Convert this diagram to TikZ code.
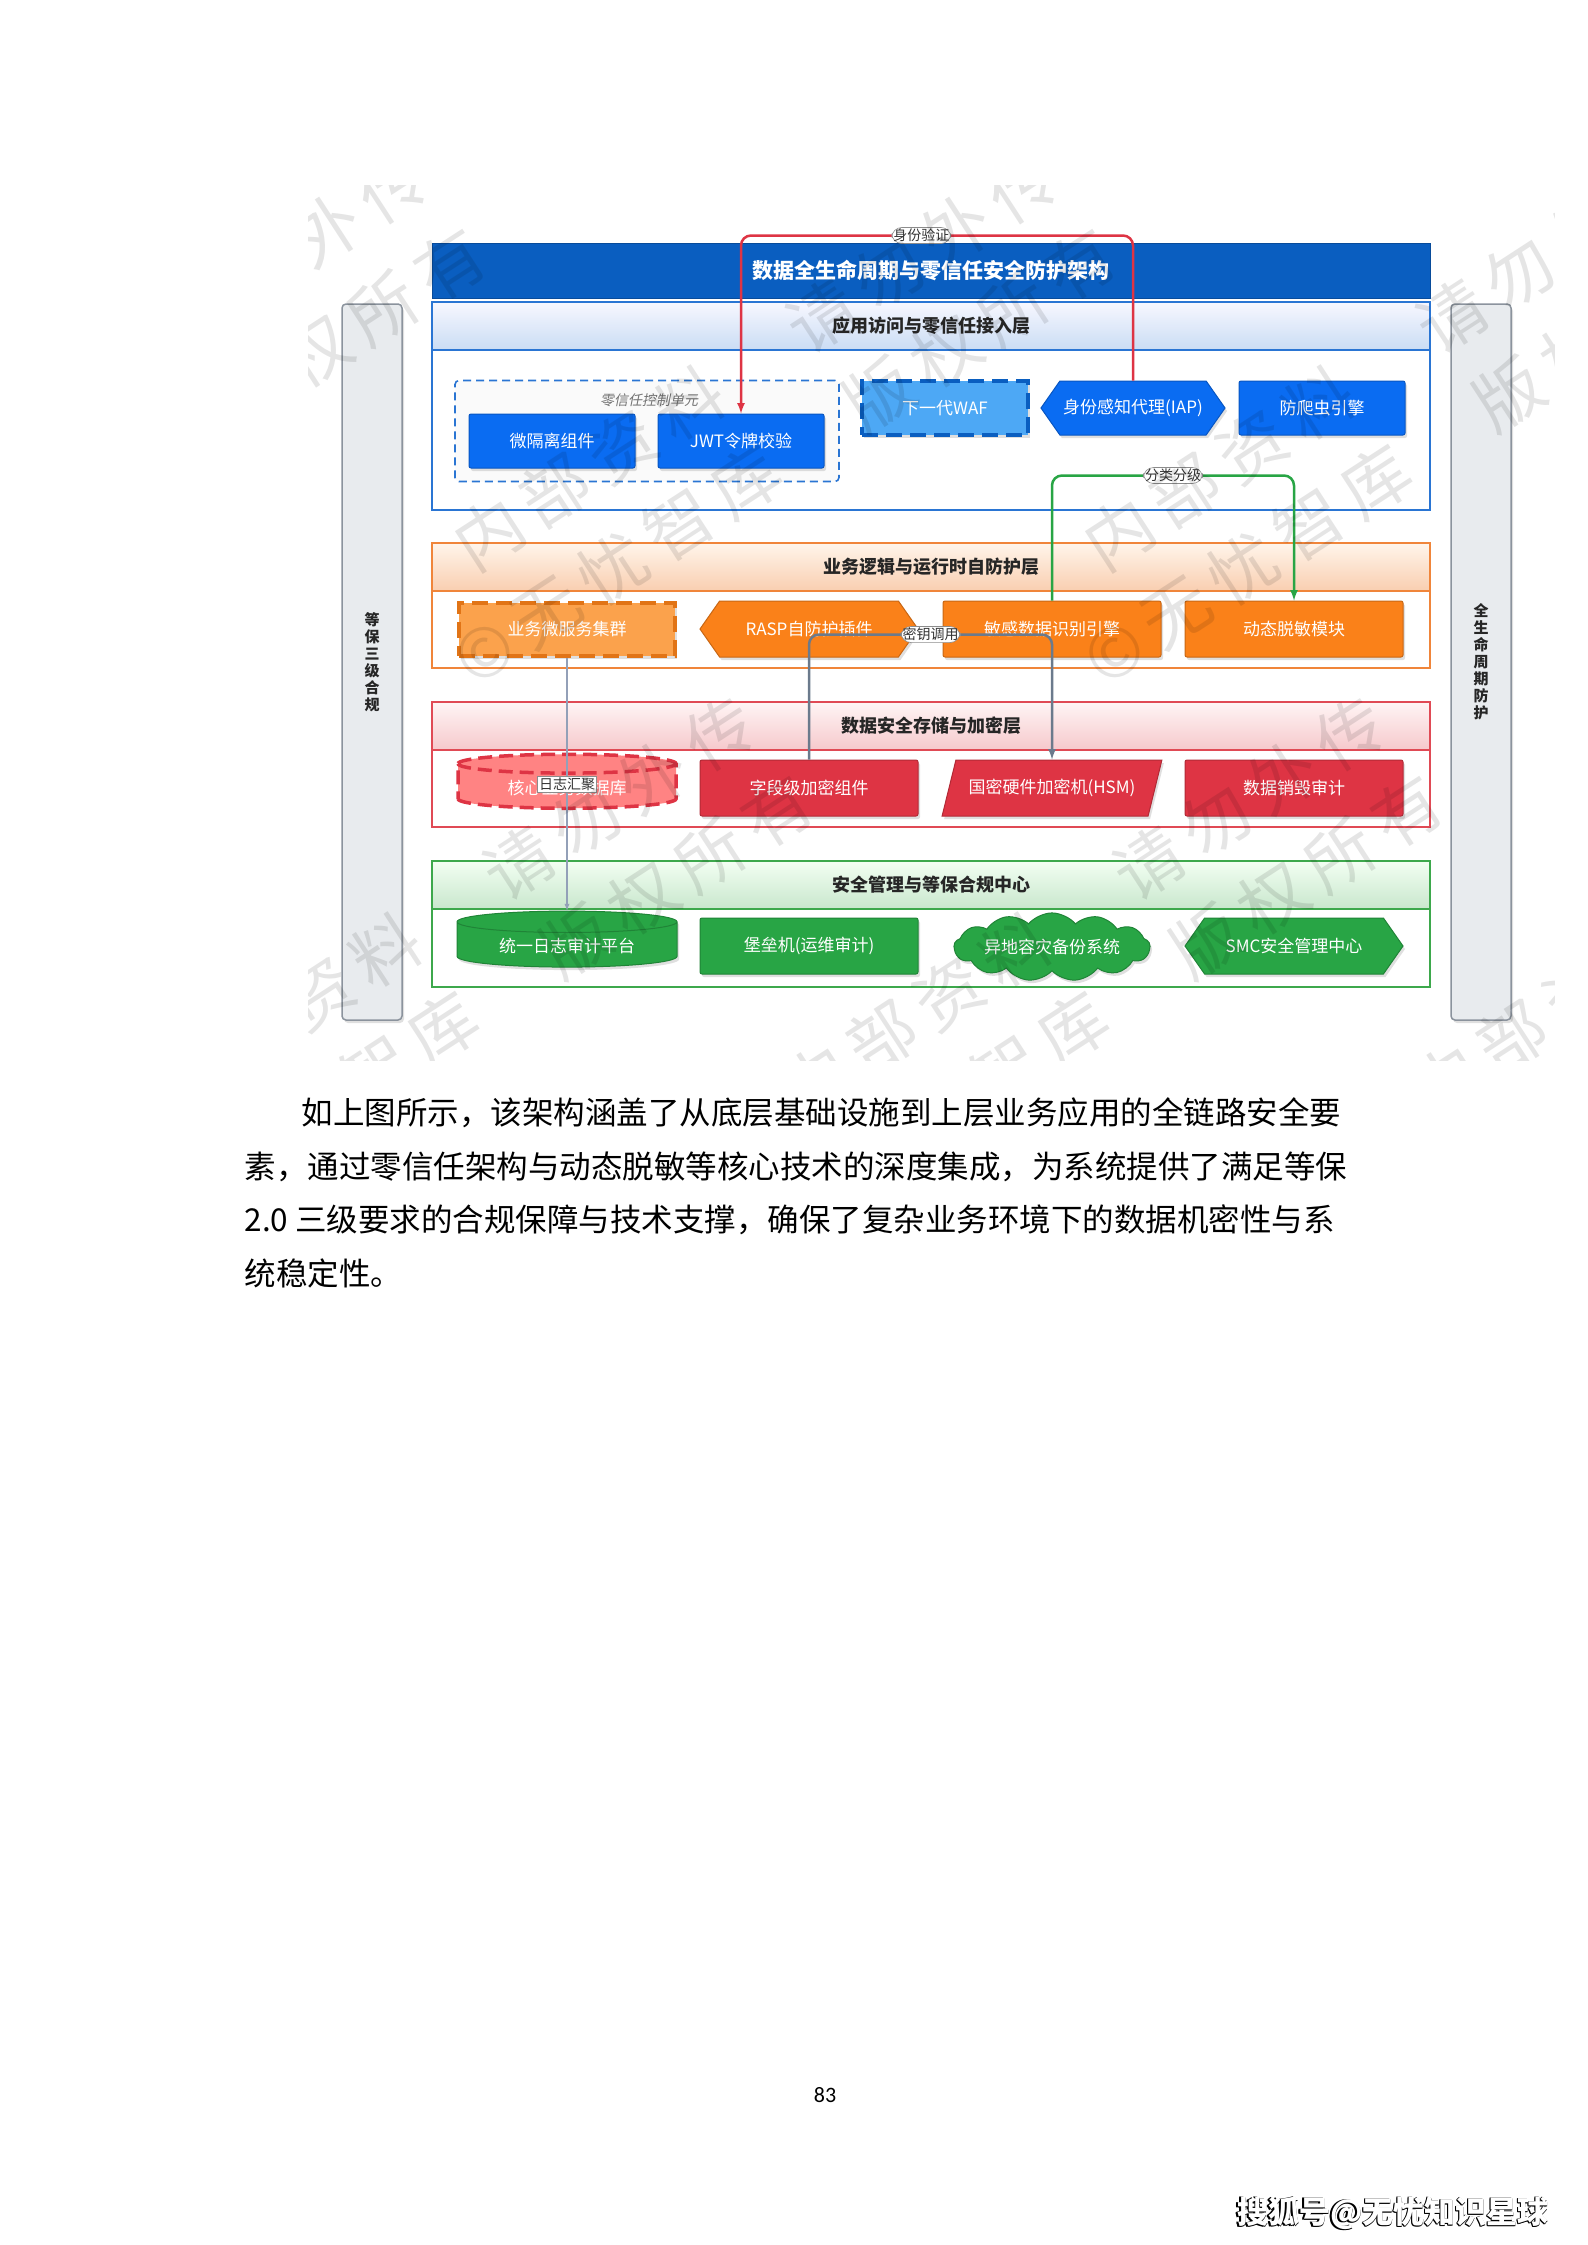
\documentclass[tikz,border=0pt]{standalone}
\usepackage{fontspec}
\setmainfont{Noto Sans CJK SC}
\newfontfamily\slfont[FakeSlant=0.2]{Noto Sans CJK SC}
\newfontfamily\wmfont[LetterSpace=17]{Noto Sans CJK SC}
\newfontfamily\numfont{Carlito}
\usetikzlibrary{shapes.geometric,shapes.symbols,shadows,arrows}
\definecolor{archtitle}{HTML}{0A5EC0}
\definecolor{archblue}{HTML}{0A6CF2}
\definecolor{archsky}{HTML}{4DA8F5}
\definecolor{archorange}{HTML}{FA8119}
\definecolor{archpeach}{HTML}{FBA24C}
\definecolor{archred}{HTML}{DE3444}
\definecolor{archpink}{HTML}{FF8383}
\definecolor{archgreen}{HTML}{28A545}
\definecolor{archbar}{HTML}{E8EBEE}
\definecolor{archbarln}{HTML}{8B939D}
\definecolor{archslate}{HTML}{6B7A8C}
\definecolor{archlog}{HTML}{93A0B8}
\definecolor{laybl}{HTML}{2A75D3}
\definecolor{layor}{HTML}{F0853A}
\definecolor{layrd}{HTML}{E04A55}
\definecolor{laygn}{HTML}{3DA84C}

\begin{document}
\begin{tikzpicture}[x=1pt,y=-1pt,
        every node/.style={font=\fontsize{17}{20}\selectfont, text=white, align=center},
        shd/.style={drop shadow={opacity=0.25, shadow xshift=2pt, shadow yshift=-3pt}},
        ttl/.style={fill=archtitle, draw=archtitle!80!black, line width=1pt,
          minimum width=998, minimum height=55, font=\fontsize{21}{24}\selectfont\bfseries},
        lyr/.style={fill=white, line width=1.6pt, minimum width=998, inner sep=0pt},
        hdr/.style={line width=1.6pt, minimum width=998, minimum height=48,
          text=black!85, font=\fontsize{18}{20}\selectfont\bfseries},
        bx/.style={shd, fill=#1, draw=#1!80!black, line width=1pt, rounded corners=2pt,
          minimum width=218, minimum height=56},
        hex/.style={shd, signal, signal to=west and east, signal pointer angle=110,
          fill=#1, draw=#1!80!black, line width=1pt, minimum width=218, minimum height=56},
        cyl/.style={shd, cylinder, shape border rotate=90, aspect=0.15,
          fill=#1, draw=#1!80!black, line width=1pt, minimum width=220, minimum height=56},
        slant/.style={shd, trapezium, trapezium left angle=63, trapezium right angle=117,
          trapezium stretches=true, fill=archred, draw=archred!80!black, line width=1pt,
          minimum width=220, minimum height=56},
        cld/.style={shd, cloud, cloud puffs=13, cloud puff arc=100, aspect=4,
          fill=archgreen, draw=archgreen!80!black, line width=1pt,
          minimum width=196, minimum height=50, inner sep=0pt},
        grp/.style={draw=laybl, fill=black!2, line width=1.6pt, dash pattern=on 8pt off 5pt,
          rounded corners=4pt, minimum width=384, minimum height=101},
        grplbl/.style={text=black!55, font=\slfont\fontsize{14}{16}\selectfont},
        side/.style={shd, fill=archbar, draw=archbarln, line width=1.5pt, rounded corners=4pt,
          minimum width=60, minimum height=716, text=black!85,
          font=\fontsize{15}{17}\selectfont\bfseries},
        elbl/.style={fill=white, draw=black!45, line width=0.6pt, text=black!80,
          font=\fontsize{14}{15}\selectfont, inner sep=1.5pt},
        authln/.style={-latex, draw=archred, line width=2.5pt, rounded corners=10pt},
        clsln/.style={-latex, draw=archgreen, line width=2.5pt, rounded corners=10pt},
        keyln/.style={-latex, draw=archslate, line width=2.5pt, rounded corners=10pt},
        logln/.style={-latex, draw=archlog, line width=1.3pt},
        body/.style={anchor=west, text=black, font=\fontsize{31.5}{34}\selectfont},
        wm/.style={anchor=west, text=black, text opacity=0.1, inner sep=0pt,
          font=\wmfont\fontsize{68}{70}\selectfont, rotate=33},
        sohu/.style={font=\fontsize{31}{34}\selectfont\bfseries},
      ]
      \fill[white] (0,0) rectangle (1587,2245);
      \useasboundingbox (0,0) rectangle (1587,2245);

      % side bars
      \node[side] (lbar) at (372,662) {等\\保\\三\\级\\合\\规};
      \node[side] (rbar) at (1481,662) {全\\生\\命\\周\\期\\防\\护};

      % title
      \node[ttl] (ttl) at (931,270.5) {数据全生命周期与零信任安全防护架构};

      % layer 1
      \node[lyr, draw=laybl, minimum height=208] (l1) at (931,406) {};
      \node[hdr, draw=laybl, top color=blue!3, bottom color=laybl!25] (h1) at (931,326) {应用访问与零信任接入层};
      \node[grp] (zt) at (647,431) {};
      \node[grplbl] (ztl) at (649,400) {零信任控制单元};
      \node[bx=archblue, minimum width=166, minimum height=54] (mseg) at (552,441) {微隔离组件};
      \node[bx=archblue, minimum width=166, minimum height=54] (jwt) at (741,441) {JWT令牌校验};
      \node[shd, fill=archsky, draw=archtitle, line width=4pt, dash pattern=on 16pt off 8pt,
        minimum width=166, minimum height=54] (waf) at (945,408) {下一代WAF};
      \node[hex=archblue, minimum width=166, minimum height=54] (iap) at (1133,408) {身份感知代理(IAP)};
      \node[bx=archblue, minimum width=166, minimum height=54] (crawl) at (1322,408) {防爬虫引擎};

      % layer 2
      \node[lyr, draw=layor, minimum height=125] (l2) at (931,605.5) {};
      \node[hdr, draw=layor, top color=orange!8, bottom color=layor!40] (h2) at (931,567) {业务逻辑与运行时自防护层};
      \node[shd, fill=archpeach, draw=archorange!90!black, line width=4pt, dash pattern=on 16pt off 8pt,
        minimum width=216, minimum height=53] (svc) at (567,629) {业务微服务集群};
      \node[hex=archorange] (rasp) at (809,629) {RASP自防护插件};
      \node[bx=archorange] (sens) at (1052,629) {敏感数据识别引擎};
      \node[bx=archorange] (mask) at (1294,629) {动态脱敏模块};

      % layer 3
      \node[lyr, draw=layrd, minimum height=125] (l3) at (931,764.5) {};
      \node[hdr, draw=layrd, top color=red!4, bottom color=layrd!30] (h3) at (931,726) {数据安全存储与加密层};
      \node[cylinder, shape border rotate=90, aspect=0.15, fill=archpink, draw=archred,
        line width=3.5pt, dash pattern=on 14pt off 7pt, minimum width=218, minimum height=54] (coredb) at (567,788) {核心业务数据库};
      \node[bx=archred] (fld) at (809,788) {字段级加密组件};
      \node[slant] (hsm) at (1052,788) {国密硬件加密机(HSM)};
      \node[bx=archred] (wipe) at (1294,788) {数据销毁审计};

      % layer 4
      \node[lyr, draw=laygn, minimum height=126] (l4) at (931,924) {};
      \node[hdr, draw=laygn, top color=green!5, bottom color=laygn!28] (h4) at (931,885) {安全管理与等保合规中心};
      \node[cyl=archgreen] (logp) at (567,946) {统一日志审计平台};
      \node[bx=archgreen] (bastion) at (809,946) {堡垒机(运维审计)};
      \node[cld] (dr) at (1052,947) {异地容灾备份系统};
      \node[hex=archgreen] (smc) at (1294,946) {SMC安全管理中心};

      % flows
      \draw[authln] (iap.north) -- ++(0,-145) -| node[elbl, pos=0.27] (authlbl) {身份验证} (jwt.north);
      \draw[clsln] (sens.north) -- ++(0,-125) -| node[elbl, pos=0.25] (clslbl) {分类分级} (mask.north);
      \draw[keyln] (fld.north) -- ++(0,-125) -| node[elbl, pos=0.25] (keylbl) {密钥调用} (hsm.north);
      \draw[logln] (svc.south) -- node[elbl] (loglbl) {日志汇聚} (logp.north);

      % watermark stamps
      \begin{scope}
        \clip (308,186) rectangle (1554,1060);
        \foreach \sx/\sy [count=\i] in {-170/552, 460/552, 1090/552, 157/1099, 787/1099, 1417/1099} {
          \node[wm] (wma\i) at (\sx,\sy) {内部资料　请勿外传};
          \node[wm] (wmb\i) at (\sx,\sy+115) {©无忧智库　版权所有};
        }
      \end{scope}

      % text below
      \node[body] (p1) at (298,1113) {如上图所示，该架构涵盖了从底层基础设施到上层业务应用的全链路安全要};
      \node[body] (p2) at (241,1167) {素，通过零信任架构与动态脱敏等核心技术的深度集成，为系统提供了满足等保};
      \node[body] (p3) at (241,1220) {2.0 三级要求的合规保障与技术支撑，确保了复杂业务环境下的数据机密性与系};
      \node[body] (p4) at (241,1273) {统稳定性。};
      \node[text=black, font=\numfont\fontsize{22}{24}\selectfont] (pg) at (825,2095) {83};
      \node[sohu, text=black] (sohuk1) at (1391.5,2213) {搜狐号@无忧知识星球};
      \node[sohu, text=black] (sohuk2) at (1391.5,2214.5) {搜狐号@无忧知识星球};
      \node[sohu, text=black] (sohuk3) at (1393,2214.5) {搜狐号@无忧知识星球};
      \node[sohu, text=white] (sohu) at (1393,2213) {搜狐号@无忧知识星球};
    \end{tikzpicture}
\end{document}
